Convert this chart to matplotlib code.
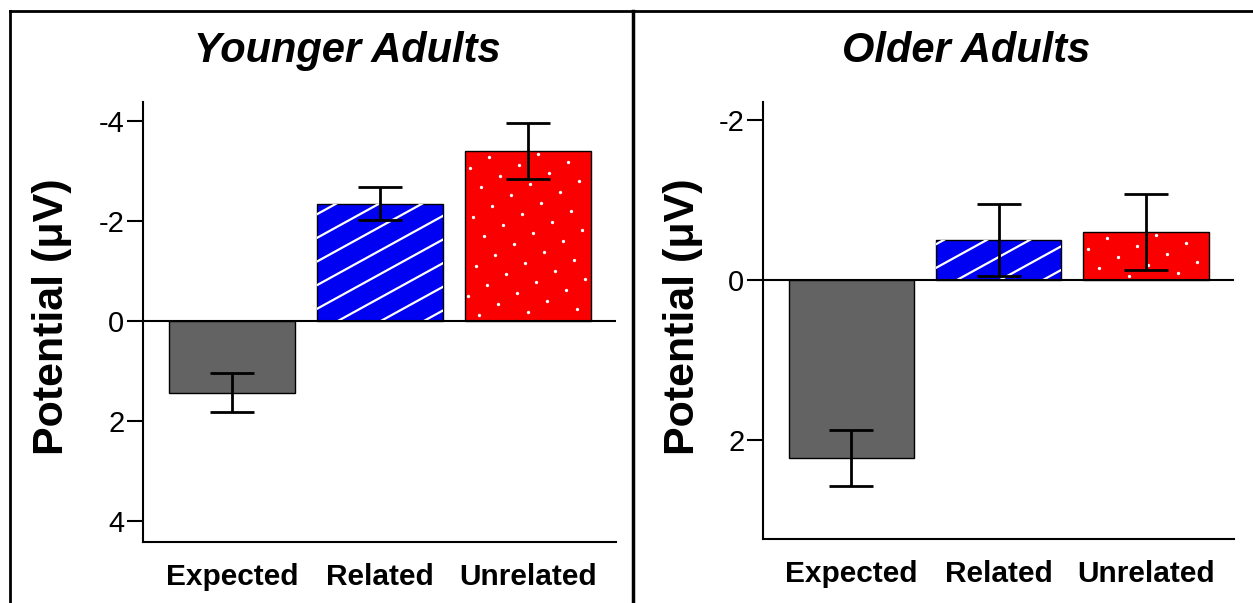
import numpy as np
import matplotlib
matplotlib.use('Agg')
import matplotlib.pyplot as plt
from matplotlib.lines import Line2D
from matplotlib.transforms import IdentityTransform

plt.rcParams['font.family'] = ['Liberation Sans', 'DejaVu Sans']
plt.rcParams['axes.unicode_minus'] = False

categories = ['Expected', 'Related', 'Unrelated']

# mean amplitude and SEM, negative plotted upward
young_mean = [1.43, -2.35, -3.40]
young_sem = [0.39, 0.33, 0.56]
older_mean = [2.23, -0.50, -0.60]
older_sem = [0.35, 0.45, 0.48]

young_ticks = [-4, -2, 0, 2, 4]
older_ticks = [-2, 0, 2]

BAR_COLORS = ['#636363', '#0000f2', '#fa0000']
W, H = 1253, 603

fig = plt.figure(figsize=(W / 100, H / 100), dpi=100)


def px_axes(left, top, right, bottom):
    return fig.add_axes([left / W, 1 - bottom / H, (right - left) / W, (bottom - top) / H])


def bar_box(ax, bar):
    pts = ax.transData.transform([[bar.get_x(), bar.get_y()],
                                  [bar.get_x() + bar.get_width(), bar.get_y() + bar.get_height()]])
    xmin, xmax = sorted(pts[:, 0])
    ymin, ymax = sorted(pts[:, 1])
    return xmin, xmax, ymin, ymax


def stripe_bar(ax, bar, slope=0.55, step=43, phase=21):
    xmin, xmax, ymin, ymax = bar_box(ax, bar)
    run = (ymax - ymin) / slope
    for start in np.arange(xmin + phase - np.ceil(run / step) * step, xmax + step, step):
        xs = [start, start + run + 2]
        ys = [ymin, ymin + slope * (run + 2)]
        line = Line2D(xs, ys, transform=IdentityTransform(), color='white', lw=1.6,
                      zorder=bar.get_zorder() + 0.1)
        ax.add_artist(line)
        # clip after adding, add_artist would otherwise reset it to the axes patch
        line.set_clip_path(bar)


def dot_bar(ax, bar, a=(11, -19), b=(30, -8), origin=(5, -17)):
    xmin, xmax, ymin, ymax = bar_box(ax, bar)
    xs, ys = [], []
    for i in range(-40, 40):
        for j in range(-40, 40):
            x = xmin + origin[0] + i * a[0] + j * b[0]
            y = ymax + origin[1] + i * a[1] + j * b[1]
            if xmin + 1.5 < x < xmax - 1.5 and ymin + 1.5 < y < ymax - 1.5:
                xs.append(x)
                ys.append(y)
    ax.plot(xs, ys, 'o', ms=2.4, color='white', mec='none', transform=IdentityTransform(),
            zorder=bar.get_zorder() + 0.1)


def draw_panel(ax, means, sems, ticks, ylim):
    x = np.arange(len(categories))
    ax.set_xlim(-0.60, 2.597)
    ax.set_ylim(*ylim)
    bars = ax.bar(x, means, width=0.85, color=BAR_COLORS, edgecolor='black', linewidth=1, zorder=2)
    stripe_bar(ax, bars[1])
    dot_bar(ax, bars[2])
    ax.errorbar(x, means, yerr=sems, fmt='none', ecolor='black', elinewidth=2,
                capsize=15.5, capthick=2, zorder=5)
    ax.axhline(0, color='black', lw=1.5, zorder=4)

    ax.set_xticks(x)
    ax.set_xticklabels(categories, fontsize=21.5, fontweight='bold')
    ax.set_yticks(ticks)
    ax.tick_params(axis='x', length=0, pad=15)
    ax.tick_params(axis='y', length=11.5, width=1.5, labelsize=21, pad=2)
    for side in ('top', 'right'):
        ax.spines[side].set_visible(False)
    for side in ('left', 'bottom'):
        ax.spines[side].set_linewidth(1.5)


ax_young = px_axes(143, 102, 616, 542)
ax_older = px_axes(763, 102, 1234, 539)

draw_panel(ax_young, young_mean, young_sem, young_ticks, (4.42, -4.38))
draw_panel(ax_older, older_mean, older_sem, older_ticks, (3.24, -2.225))

title_kw = dict(fontsize=30, fontweight='bold', fontstyle='italic', ha='center', va='baseline')
fig.text(347 / W, 1 - 62 / H, 'Younger Adults', **title_kw)
fig.text(966 / W, 1 - 62 / H, 'Older Adults', **title_kw)

label_kw = dict(fontsize=31, fontweight='bold', rotation=90, ha='center', va='center')
fig.text(52 / W, 1 - 317 / H, 'Potential (\u03bcV)', **label_kw)
fig.text(683 / W, 1 - 317 / H, 'Potential (\u03bcV)', **label_kw)

# outer frame and panel divider
top = 1 - 11 / H
fig.add_artist(Line2D([10 / W, 10 / W], [0, top], transform=fig.transFigure, color='black', lw=2))
fig.add_artist(Line2D([10 / W, 1], [top, top], transform=fig.transFigure, color='black', lw=2))
fig.add_artist(Line2D([633 / W, 633 / W], [0, top], transform=fig.transFigure, color='black', lw=2.5))

fig.savefig('out.png', dpi=100)
